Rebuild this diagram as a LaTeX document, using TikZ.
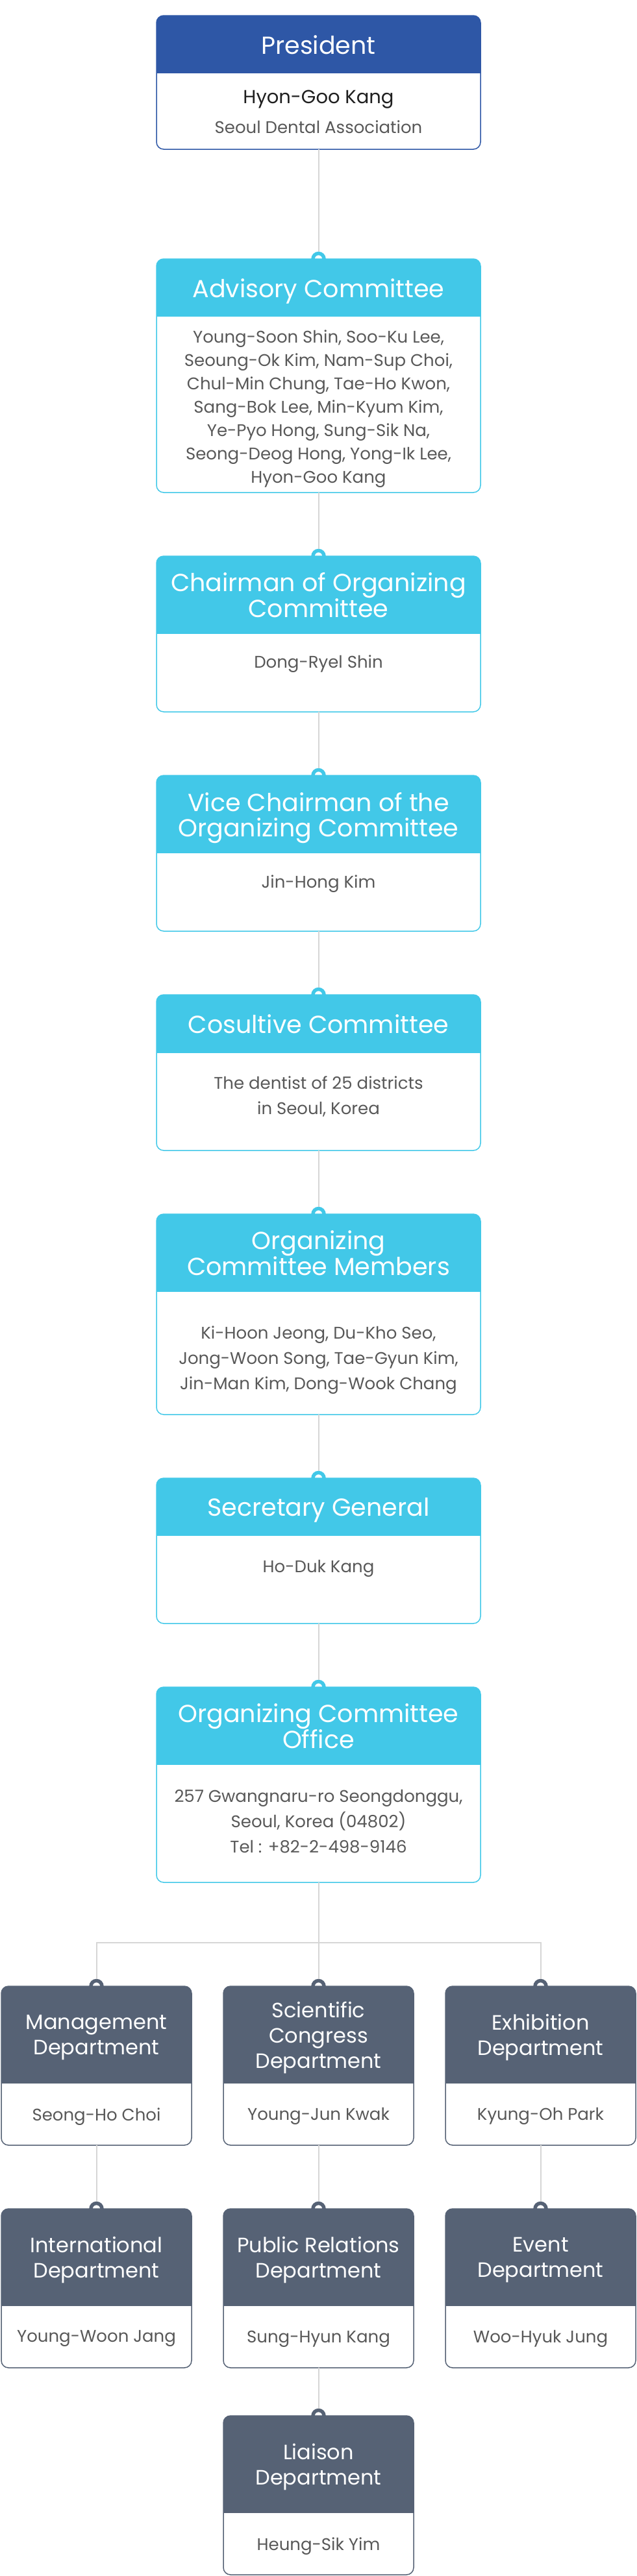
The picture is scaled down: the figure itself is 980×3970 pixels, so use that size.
\documentclass[tikz,border=0pt]{standalone}
\usepackage{fontspec}
\setmainfont{Poppins}
\usetikzlibrary{positioning}
\definecolor{presblue}{RGB}{46,87,166}
\definecolor{skyhead}{RGB}{66,200,232}
\definecolor{slatehead}{RGB}{86,98,117}
\definecolor{linegray}{RGB}{214,214,214}
\definecolor{textgray}{RGB}{88,88,88}

\begin{document}
\begin{tikzpicture}[
    x=1pt, y=1pt,
    node distance=98pt,
    every node/.style={inner sep=0pt, align=center},
    card/.style n args={3}{draw=#1, fill=white, line width=1.5pt, outer sep=0pt, rounded corners=11pt,
        minimum width=499pt, minimum height=#2,
        path picture={\fill[#1, sharp corners] (path picture bounding box.north west)
            rectangle ([yshift=-#3]path picture bounding box.north east);}},
    dept/.style={card={slatehead}{245pt}{150pt}, minimum width=293pt},
    headtext/.style={text=white, font=\fontsize{38}{39}\selectfont, text depth=0pt, minimum height=#1},
    depttext/.style={text=white, font=\fontsize{32}{39}\selectfont, text depth=0pt, minimum height=150pt},
    people/.style={text=textgray, font=\fontsize{26}{39}\selectfont},
    ring/.style={circle, draw=#1, line width=5.5pt, minimum size=17pt},
    link/.style={draw=linegray, line width=2pt}
]
\useasboundingbox (0,0) rectangle (980,-3970);

% Cards
\node (pres) [card={presblue}{206pt}{89pt}, anchor=north] at (490.5,-24) {};
\node (adv) [card={skyhead}{360pt}{89pt}, below=169pt of pres] {};
\node (chair) [card={skyhead}{240pt}{120pt}, below=of adv] {};
\node (vice) [card={skyhead}{240pt}{120pt}, below=of chair] {};
\node (cons) [card={skyhead}{240pt}{90pt}, below=of vice] {};
\node (memb) [card={skyhead}{309pt}{120pt}, below=of cons] {};
\node (sec) [card={skyhead}{224pt}{89pt}, below=of memb] {};
\node (office) [card={skyhead}{301pt}{120pt}, below=of sec] {};
\node (sci) [dept, below=160pt of office] {};
\node (mgmt) [dept, left=49pt of sci] {};
\node (exhib) [dept, right=49pt of sci] {};
\node (intl) [dept, below=of mgmt] {};
\node (pr) [dept, below=of sci] {};
\node (event) [dept, below=of exhib] {};
\node (liaison) [dept, below=74pt of pr] {};

% Titles and names
\node (prest) [headtext=89pt, below=0pt of pres.north] {President};
\node (presname) [below=25pt of prest, font=\fontsize{29}{35}\selectfont, text=black!88] {Hyon-Goo Kang};
\node (presorg) [people, below=46pt of presname.base, anchor=base] {Seoul Dental Association};

\node (advt) [headtext=89pt, below=0pt of adv.north] {Advisory Committee};
\node (advnames) [people, font=\fontsize{26}{36}\selectfont, below=20pt of advt] {Young-Soon Shin, Soo-Ku Lee,\\Seoung-Ok Kim, Nam-Sup Choi,\\Chul-Min Chung, Tae-Ho Kwon,\\Sang-Bok Lee, Min-Kyum Kim,\\Ye-Pyo Hong, Sung-Sik Na,\\Seong-Deog Hong, Yong-Ik Lee,\\Hyon-Goo Kang};

\node (chairt) [headtext=120pt, below=0pt of chair.north] {Chairman of Organizing\\Committee};
\node (chairname) [people, below=32pt of chairt] {Dong-Ryel Shin};

\node (vicet) [headtext=120pt, below=0pt of vice.north] {Vice Chairman of the\\Organizing Committee};
\node (vicename) [people, below=33pt of vicet] {Jin-Hong Kim};

\node (const) [headtext=90pt, below=0pt of cons.north] {Cosultive Committee};
\node (consnames) [people, below=35pt of const] {The dentist of 25 districts\\in Seoul, Korea};

\node (membt) [headtext=120pt, below=0pt of memb.north] {Organizing\\Committee Members};
\node (membnames) [people, below=52pt of membt] {Ki-Hoon Jeong, Du-Kho Seo,\\Jong-Woon Song, Tae-Gyun Kim,\\Jin-Man Kim, Dong-Wook Chang};

\node (sect) [headtext=89pt, below=0pt of sec.north] {Secretary General};
\node (secname) [people, below=37pt of sect] {Ho-Duk Kang};

\node (officet) [headtext=120pt, below=0pt of office.north] {Organizing Committee\\Office};
\node (officenames) [people, below=38pt of officet] {257 Gwangnaru-ro Seongdonggu,\\Seoul, Korea (04802)\\Tel : +82-2-498-9146};

\node (mgmtt) [depttext, below=0pt of mgmt.north] {Management\\Department};
\node (mgmtname) [people, below=37pt of mgmtt] {Seong-Ho Choi};
\node (scit) [depttext, below=0pt of sci.north] {Scientific\\Congress\\Department};
\node (sciname) [people, below=37pt of scit] {Young-Jun Kwak};
\node (exhibt) [depttext, below=0pt of exhib.north] {Exhibition\\Department};
\node (exhibname) [people, below=37pt of exhibt] {Kyung-Oh Park};
\node (intlt) [depttext, below=0pt of intl.north] {International\\Department};
\node (intlname) [people, below=37pt of intlt] {Young-Woon Jang};
\node (prt) [depttext, below=0pt of pr.north] {Public Relations\\Department};
\node (prname) [people, below=37pt of prt] {Sung-Hyun Kang};
\node (eventt) [depttext, below=0pt of event.north] {Event\\Department};
\node (eventname) [people, below=37pt of eventt] {Woo-Hyuk Jung};
\node (liaisont) [depttext, below=0pt of liaison.north] {Liaison\\Department};
\node (liaisonname) [people, below=37pt of liaisont] {Heung-Sik Yim};

% Rings
\node (advring) [ring=skyhead] at (adv.north) {};
\node (chairring) [ring=skyhead] at (chair.north) {};
\node (vicering) [ring=skyhead] at (vice.north) {};
\node (consring) [ring=skyhead] at (cons.north) {};
\node (membring) [ring=skyhead] at (memb.north) {};
\node (secring) [ring=skyhead] at (sec.north) {};
\node (officering) [ring=skyhead] at (office.north) {};
\node (mgmtring) [ring=slatehead] at (mgmt.north) {};
\node (sciring) [ring=slatehead] at (sci.north) {};
\node (exhibring) [ring=slatehead] at (exhib.north) {};
\node (intlring) [ring=slatehead] at (intl.north) {};
\node (prring) [ring=slatehead] at (pr.north) {};
\node (eventring) [ring=slatehead] at (event.north) {};
\node (liaisonring) [ring=slatehead] at (liaison.north) {};
\coordinate (bus) at ([yshift=-93pt]office.south);

% Edges
\draw [link] (pres) -- (advring);
\draw [link] (adv) -- (chairring);
\draw [link] (chair) -- (vicering);
\draw [link] (vice) -- (consring);
\draw [link] (cons) -- (membring);
\draw [link] (memb) -- (secring);
\draw [link] (sec) -- (officering);
\draw [link] (office) -- (bus);
\draw [link] (mgmtring) |- (bus) -| (exhibring);
\draw [link] (bus) -- (sciring);
\draw [link] (mgmt) -- (intlring);
\draw [link] (sci) -- (prring);
\draw [link] (exhib) -- (eventring);
\draw [link] (pr) -- (liaisonring);

\end{tikzpicture}
\end{document}
